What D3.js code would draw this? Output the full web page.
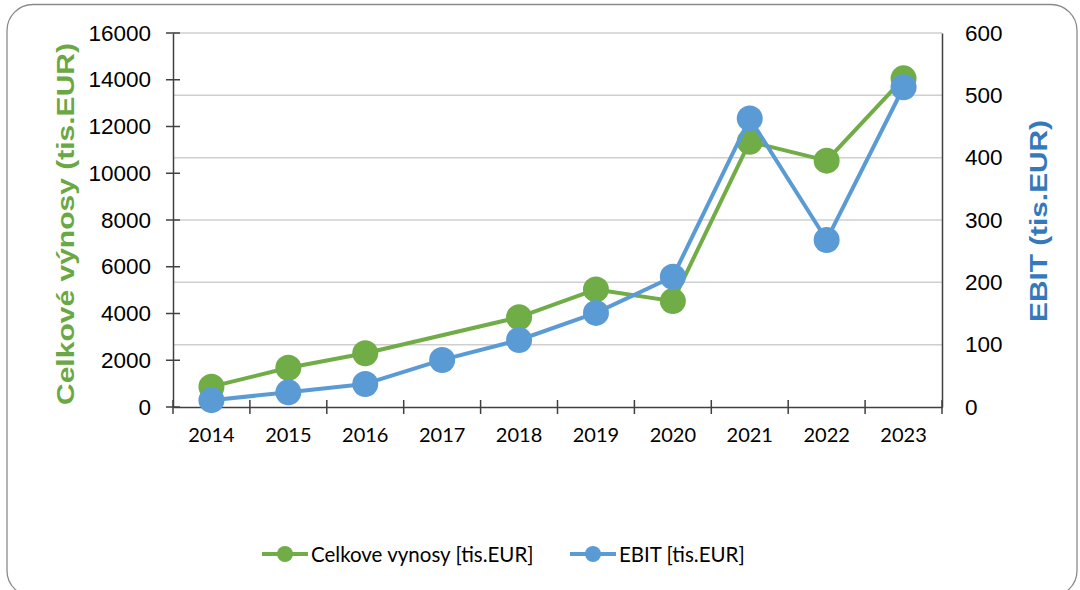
<!DOCTYPE html>
<html><head><meta charset="utf-8">
<script src="https://cdn.jsdelivr.net/npm/d3@7/dist/d3.min.js"></script>
<style>body{margin:0;background:#fff}svg{display:block}</style>
</head><body><svg id="c" width="1080" height="590"></svg>
<script>
const years = ["2014","2015","2016","2017","2018","2019","2020","2021","2022","2023"];
const revenue = [870, 1680, 2300, null, 3840, 5030, 4530, 11350, 10540, 14060];
const ebit = [11, 23.5, 37, 75.5, 107.5, 151, 209, 463, 268, 513];
const leftTicks = [0,2000,4000,6000,8000,10000,12000,14000,16000];
const rightTicks = [0,100,200,300,400,500,600];
const seriesNames = ["Celkove vynosy [tis.EUR]", "EBIT [tis.EUR]"];
const leftTitle = "Celkové výnosy (tis.EUR)";
const rightTitle = "EBIT (tis.EUR)";

const green = "#70AD47", blue = "#5B9BD5";
const svg = d3.select("#c");
const L = 173, R = 942, T = 33, B = 407;

svg.append("rect").attr("x",7).attr("y",4.5).attr("width",1070).attr("height",592)
  .attr("rx",26).attr("fill","#fff").attr("stroke","#8a8a8a").attr("stroke-width",1.3);

const x = d3.scaleBand().domain(years).range([L,R]);
const yL = d3.scaleLinear().domain([0,16000]).range([B,T]);
const yR = d3.scaleLinear().domain([0,600]).range([B,T]);

// gridlines (right axis)
svg.append("g").selectAll("line").data(rightTicks.filter(d=>d>0)).join("line")
  .attr("x1",L).attr("x2",R).attr("y1",d=>yR(d)).attr("y2",d=>yR(d))
  .attr("stroke","#cfcfcf").attr("stroke-width",1.5);

// left axis
const gl = svg.append("g").attr("transform",`translate(${L},0)`)
  .call(d3.axisLeft(yL).tickValues(leftTicks).tickSize(0).tickPadding(22).tickFormat(d3.format("d")));
gl.select(".domain").attr("stroke","#404040").attr("stroke-width",1.5);
gl.selectAll("text").attr("font-family","'Liberation Sans', Arial, sans-serif").attr("font-size",22.5).attr("fill","#000");
svg.append("g").selectAll("line").data(leftTicks).join("line")
  .attr("x1",L-7).attr("x2",L+7).attr("y1",d=>yL(d)).attr("y2",d=>yL(d))
  .attr("stroke","#404040").attr("stroke-width",1.5);

// right axis
const gr = svg.append("g").attr("transform",`translate(${R},0)`)
  .call(d3.axisRight(yR).tickValues(rightTicks).tickSize(0).tickPadding(23));
gr.select(".domain").attr("stroke","#404040").attr("stroke-width",1.5);
gr.selectAll("text").attr("font-family","'Liberation Sans', Arial, sans-serif").attr("font-size",22.5).attr("fill","#000");

// x axis
const gx = svg.append("g").attr("transform",`translate(0,${B})`)
  .call(d3.axisBottom(x).tickSize(0).tickPadding(21));
gx.select(".domain").attr("stroke","#404040").attr("stroke-width",1.5);
gx.selectAll("text").attr("font-family","Lato, sans-serif").attr("font-size",20).attr("fill","#000");
const bounds = years.map(d=>x(d)).concat([R]);
svg.append("g").selectAll("line").data(bounds).join("line")
  .attr("x1",d=>d).attr("x2",d=>d).attr("y1",B-7).attr("y2",B+7)
  .attr("stroke","#404040").attr("stroke-width",1.5);

const cx = d => x(d) + x.bandwidth()/2;

// revenue series
const revData = years.map((y,i)=>({y, v:revenue[i]})).filter(d=>d.v!==null);
svg.append("path").datum(revData)
  .attr("d", d3.line().x(d=>cx(d.y)).y(d=>yL(d.v)))
  .attr("fill","none").attr("stroke",green).attr("stroke-width",4).attr("stroke-linejoin","round");
svg.append("g").selectAll("circle").data(revData).join("circle")
  .attr("cx",d=>cx(d.y)).attr("cy",d=>yL(d.v)).attr("r",13).attr("fill",green);

// ebit series
const ebData = years.map((y,i)=>({y, v:ebit[i]}));
svg.append("path").datum(ebData)
  .attr("d", d3.line().x(d=>cx(d.y)).y(d=>yR(d.v)))
  .attr("fill","none").attr("stroke",blue).attr("stroke-width",4).attr("stroke-linejoin","round");
svg.append("g").selectAll("circle").data(ebData).join("circle")
  .attr("cx",d=>cx(d.y)).attr("cy",d=>yR(d.v)).attr("r",13).attr("fill",blue);

// axis titles
svg.append("text").attr("transform","translate(65,224) rotate(-90)")
  .attr("text-anchor","middle").attr("dominant-baseline","central")
  .attr("font-family","'Liberation Sans', Arial, sans-serif").attr("font-weight","bold").attr("font-size",24)
  .attr("fill","#6AA843").attr("textLength",362).attr("lengthAdjust","spacingAndGlyphs").text(leftTitle);
svg.append("text").attr("transform","translate(1038,221) rotate(-90)")
  .attr("text-anchor","middle").attr("dominant-baseline","central")
  .attr("font-family","'Liberation Sans', Arial, sans-serif").attr("font-weight","bold").attr("font-size",24)
  .attr("fill","#3579BD").attr("textLength",202).attr("lengthAdjust","spacingAndGlyphs").text(rightTitle);

// legend
const leg = [{name:seriesNames[0], c:green, x0:262}, {name:seriesNames[1], c:blue, x0:570}];
const lg = svg.append("g").selectAll("g").data(leg).join("g");
lg.append("line").attr("x1",d=>d.x0).attr("x2",d=>d.x0+46).attr("y1",554).attr("y2",554)
  .attr("stroke",d=>d.c).attr("stroke-width",4);
lg.append("circle").attr("cx",d=>d.x0+23).attr("cy",554).attr("r",8).attr("fill",d=>d.c);
lg.append("text").attr("x",d=>d.x0+49).attr("y",554).attr("dominant-baseline","central")
  .attr("font-family","Lato, sans-serif").attr("font-size",20.5).attr("fill","#000").text(d=>d.name);
</script></body></html>
